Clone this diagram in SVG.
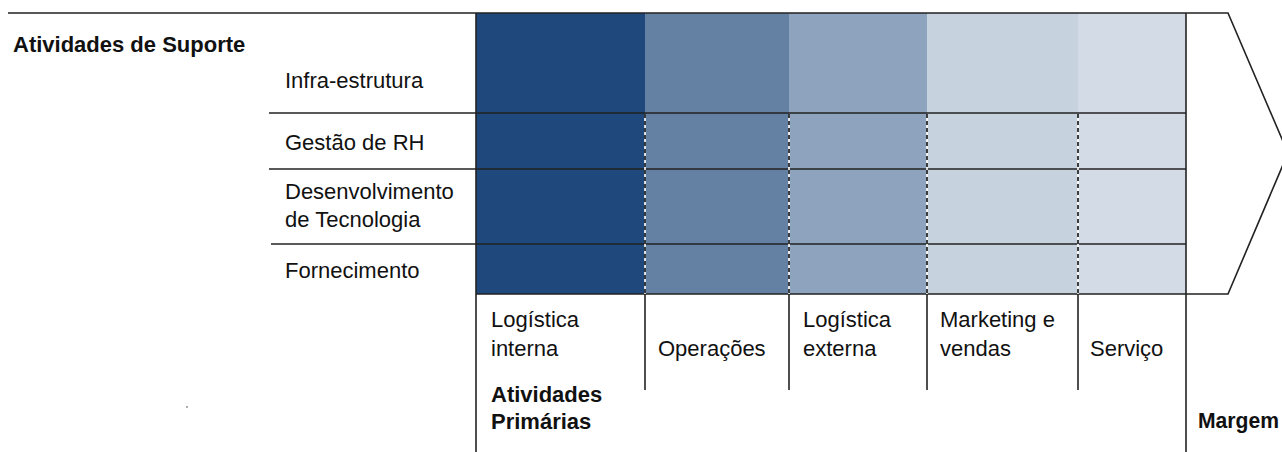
<svg xmlns="http://www.w3.org/2000/svg" width="1282" height="452" viewBox="0 0 1282 452">
<style>
.t{font-family:"Liberation Sans",Arial,sans-serif;font-size:22px;fill:#111}
.b{font-family:"Liberation Sans",Arial,sans-serif;font-size:22px;font-weight:bold;fill:#111}
.ln{stroke:#222;stroke-width:1.6;fill:none}
.dw{stroke:#fff;stroke-width:1.6}
.dk{stroke:#111;stroke-width:1.6;stroke-dasharray:4 3}
</style>
<rect width="1282" height="452" fill="#fff"/>
<g id="bands">
<rect x="476" y="13" width="169" height="281" fill="#1f497d"/>
<rect x="645" y="13" width="144" height="281" fill="#6480a3"/>
<rect x="789" y="13" width="138" height="281" fill="#8ea3bd"/>
<rect x="927" y="13" width="151" height="281" fill="#c7d2df"/>
<rect x="1078" y="13" width="108" height="281" fill="#d3dbe6"/>
</g>
<g id="connectors">
<polyline class="ln" points="8,13 1228,13 1288,153 1228,294 476,294"/>
<line class="ln" x1="476" y1="13" x2="476" y2="452"/>
<line class="ln" x1="1186" y1="13" x2="1186" y2="452"/>
<line class="ln" x1="269" y1="113" x2="1186" y2="113"/>
<line class="ln" x1="269" y1="169" x2="1186" y2="169"/>
<line class="ln" x1="271" y1="244" x2="1186" y2="244"/>
<g>
<line class="dw" x1="645" y1="114" x2="645" y2="294"/>
<line class="dw" x1="789" y1="114" x2="789" y2="294"/>
<line class="dw" x1="927" y1="114" x2="927" y2="294"/>
<line class="dw" x1="1078" y1="114" x2="1078" y2="294"/>
<line class="dk" x1="645" y1="114" x2="645" y2="294"/>
<line class="dk" x1="789" y1="114" x2="789" y2="294"/>
<line class="dk" x1="927" y1="114" x2="927" y2="294"/>
<line class="dk" x1="1078" y1="114" x2="1078" y2="294"/>
</g>
<line class="ln" x1="645" y1="294" x2="645" y2="390"/>
<line class="ln" x1="789" y1="294" x2="789" y2="390"/>
<line class="ln" x1="927" y1="294" x2="927" y2="390"/>
<line class="ln" x1="1078" y1="294" x2="1078" y2="390"/>
</g>
<g id="support-title"><text class="b" x="13" y="52">Atividades de Suporte</text></g>
<g id="infra"><text class="t" x="285" y="88">Infra-estrutura</text></g>
<g id="rh"><text class="t" x="285" y="150">Gestão de RH</text></g>
<g id="tec"><text class="t" x="285" y="199">Desenvolvimento</text><text class="t" x="285" y="227">de Tecnologia</text></g>
<g id="forn"><text class="t" x="285" y="278">Fornecimento</text></g>
<g id="log-int"><text class="t" x="491" y="327">Logística</text><text class="t" x="491" y="356">interna</text></g>
<g id="oper"><text class="t" x="658" y="356">Operações</text></g>
<g id="log-ext"><text class="t" x="803" y="327">Logística</text><text class="t" x="803" y="356">externa</text></g>
<g id="mkt"><text class="t" x="940" y="327">Marketing e</text><text class="t" x="940" y="356">vendas</text></g>
<g id="serv"><text class="t" x="1090" y="356">Serviço</text></g>
<g id="primarias"><text class="b" x="491" y="402">Atividades</text><text class="b" x="491" y="429">Primárias</text></g>
<g id="margem"><text class="b" x="1198" y="428" textLength="81" lengthAdjust="spacingAndGlyphs">Margem</text></g>
<circle cx="187" cy="407" r="0.8" fill="#444"/>
</svg>
